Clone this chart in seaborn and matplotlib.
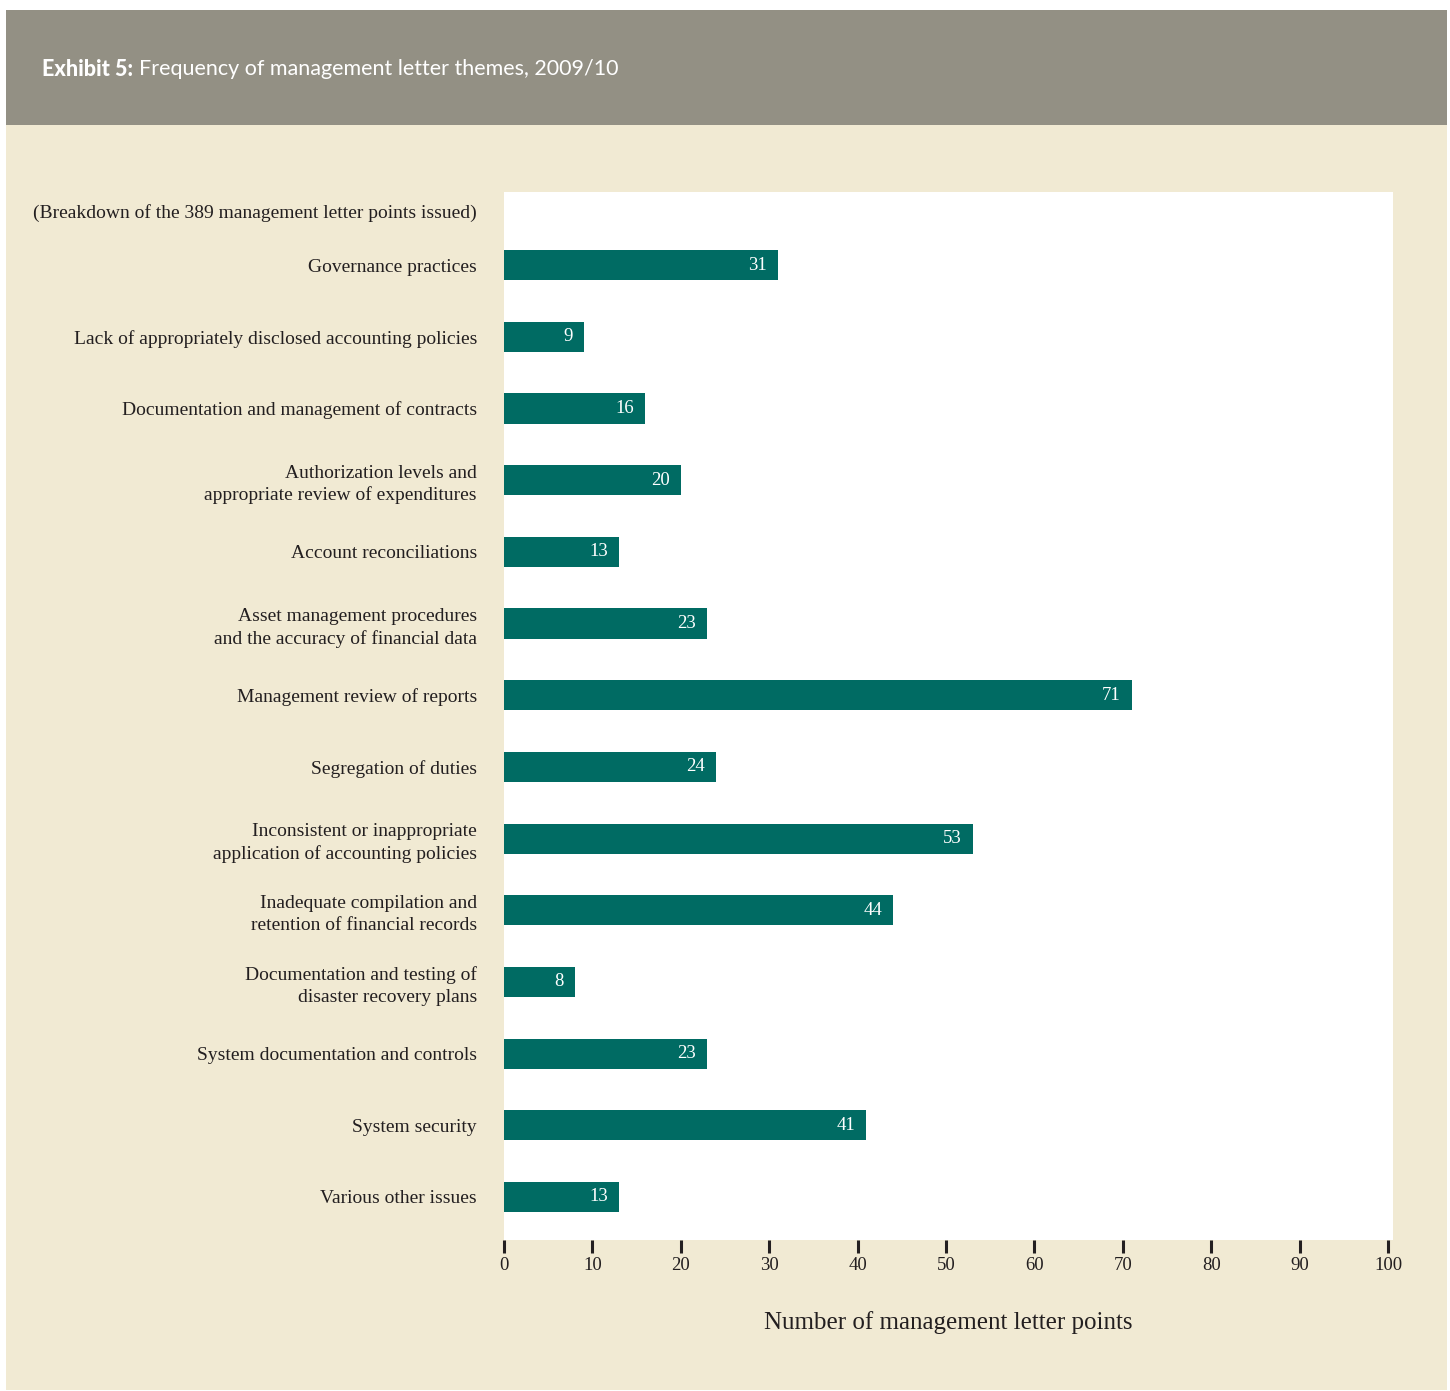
import matplotlib
matplotlib.use("Agg")
import matplotlib.pyplot as plt
import seaborn as sns
import pandas as pd
from matplotlib.patches import Rectangle

categories = [
    "Governance practices",
    "Lack of appropriately disclosed accounting policies",
    "Documentation and management of contracts",
    "Authorization levels and\nappropriate review of expenditures",
    "Account reconciliations",
    "Asset management procedures\nand the accuracy of financial data",
    "Management review of reports",
    "Segregation of duties",
    "Inconsistent or inappropriate\napplication of accounting policies",
    "Inadequate compilation and\nretention of financial records",
    "Documentation and testing of\ndisaster recovery plans",
    "System documentation and controls",
    "System security",
    "Various other issues",
]
values = [31, 9, 16, 20, 13, 23, 71, 24, 53, 44, 8, 23, 41, 13]
xticks = [0, 10, 20, 30, 40, 50, 60, 70, 80, 90, 100]

title_bold = "Exhibit 5:"
title_rest = "Frequency of management letter themes, 2009/10"
subtitle = "(Breakdown of the 389 management letter points issued)"
xlabel = "Number of management letter points"

BEIGE = "#f1ead3"
HEADER = "#939084"
TEAL = "#006b63"
TXT = "#231f20"

sns.set_theme(style="white")
plt.rcParams["font.family"] = ["Liberation Serif", "DejaVu Serif"]

W, H = 1450, 1391
fig = plt.figure(figsize=(W / 100, H / 100), dpi=100)
fig.patch.set_facecolor("white")

# background panels
fig.patches.append(Rectangle((6 / W, 1 - 1390 / H), (1447 - 6) / W, (1390 - 125) / H,
                             transform=fig.transFigure, facecolor=BEIGE, edgecolor="none", zorder=-10))
fig.patches.append(Rectangle((6 / W, 1 - 125 / H), (1447 - 6) / W, (125 - 10) / H,
                             transform=fig.transFigure, facecolor=HEADER, edgecolor="none", zorder=-10))

ax = fig.add_axes([504 / W, 1 - 1240 / H, (1393 - 504) / W, (1240 - 192) / H])
ax.set_facecolor("white")

df = pd.DataFrame({"cat": categories, "val": values})
sns.barplot(data=df, y="cat", x="val", orient="h", color=TEAL, saturation=1,
            width=0.42, ax=ax, edgecolor="none")

ax.set_xlim(0, 100.55)
ax.set_ylim(13.6, -1.02)
ax.set_xticks(xticks)
ax.set_xticklabels([str(t) for t in xticks], fontsize=13.5, color=TXT)
ax.tick_params(axis="x", direction="out", length=9, width=2.2, color=TXT, pad=3, bottom=True)
ax.tick_params(axis="y", length=0, pad=19.5)
for lbl in ax.get_yticklabels():
    lbl.set_fontsize(14)
    lbl.set_color(TXT)
    lbl.set_multialignment("right")
    lbl.set_linespacing(1.35)
for s in ax.spines.values():
    s.set_visible(False)
ax.set_ylabel("")
ax.set_xlabel(xlabel, fontsize=18, color=TXT, labelpad=27)

for c in ax.containers:
    texts = ax.bar_label(c, labels=[str(v) for v in values], padding=-8, label_type="edge",
                         color="white", fontsize=13.5)
    for t in texts:
        t.set_ha("right")

ax.text(-27 / 8.84, -0.72, subtitle, ha="right", va="center", fontsize=14,
        color=TXT, transform=ax.transData, clip_on=False)

# title in header
t1 = fig.text(42 / W, 1 - 69 / H, title_bold, ha="left", va="center", color="white",
              fontsize=15.5, fontweight="black", family=["Lato", "DejaVu Sans"])
fig.canvas.draw()
bb = t1.get_window_extent()
fig.text((bb.x1 + 6) / W, 1 - 69 / H, title_rest, ha="left", va="center", color="white",
         fontsize=15.5, family=["Lato", "DejaVu Sans"])

fig.savefig("out.png", dpi=100, facecolor=fig.get_facecolor())
